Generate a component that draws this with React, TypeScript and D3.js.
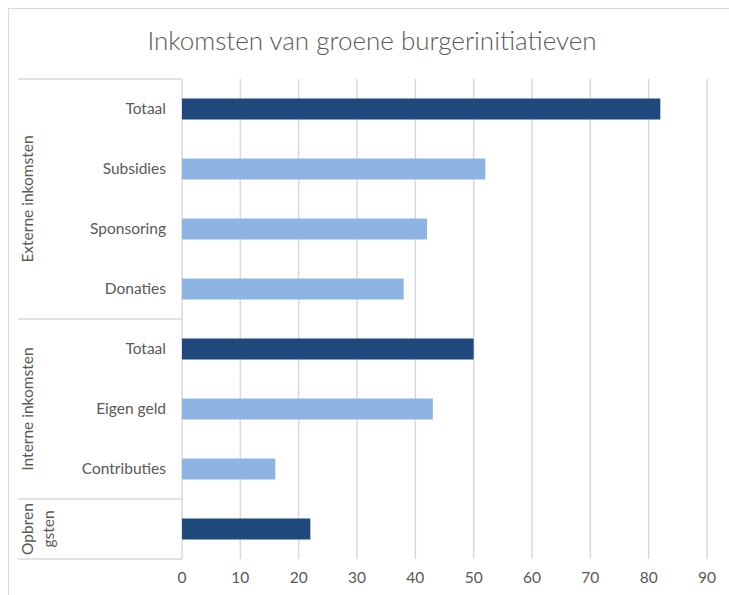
import React from 'react';
import * as d3 from 'd3';

const categories = ['Totaal', 'Subsidies', 'Sponsoring', 'Donaties', 'Totaal', 'Eigen geld', 'Contributies', ''];
const values = [82, 52, 42, 38, 50, 43, 16, 22];
const isTotal = [true, false, false, false, true, false, false, true];
const groups = ['Externe inkomsten', 'Interne inkomsten', 'Opbrengsten'];
const groupSizes = [4, 3, 1];
const ticks = [0, 10, 20, 30, 40, 50, 60, 70, 80, 90];

const W = 729;
const H = 595;
const FONT = 'Lato, "Open Sans", sans-serif';
const TEXT = '#595959';
const GRID = '#d9d9d9';
const LABEL = 15.5;

export default function App() {
  const x = d3.scaleLinear().domain([0, 90]).range([182, 707]);
  const y = d3.scaleBand<number>()
    .domain(categories.map((_, i) => i))
    .range([79, 559])
    .paddingInner(0.65)
    .paddingOuter(0.325);
  const step = y.step();

  // group boundaries (in row index)
  let start = 0;
  const groupSpans = groups.map((g, i) => {
    const s = start;
    start += groupSizes[i];
    return { name: g, from: s, to: start };
  });
  const rowTop = (i: number) => 79 + i * step;

  return (
    <svg width={W} height={H} style={{ position: 'absolute', left: 0, top: 0, background: '#fff' }}>
      {/* chart frame */}
      <rect x={8.5} y={8.5} width={W + 10} height={H + 10} fill="#fff" stroke={GRID} strokeWidth={1} />

      <text x={372} y={50} textAnchor="middle" fill={TEXT} style={{ fontFamily: FONT, fontSize: 26, fontWeight: 300 }}>
        Inkomsten van groene burgerinitiatieven
      </text>

      {/* vertical gridlines */}
      {ticks.map(t => (
        <line key={t} x1={x(t)} x2={x(t)} y1={79} y2={559} stroke={GRID} strokeWidth={1.5} />
      ))}

      {/* group separators */}
      {[0, ...groupSpans.map(g => g.to)].map((r, i) => (
        <line key={i} x1={18} x2={x(0)} y1={rowTop(r)} y2={rowTop(r)} stroke={GRID} strokeWidth={1.5} />
      ))}

      {/* bars */}
      {values.map((v, i) => (
        <rect key={i} x={x(0)} y={y(i)!} width={x(v) - x(0)} height={y.bandwidth()}
          fill={isTotal[i] ? '#1f497d' : '#8eb4e3'} />
      ))}

      {/* category labels */}
      {categories.map((c, i) => (
        <text key={i} x={166} y={y(i)! + y.bandwidth() / 2} dy="0.35em" textAnchor="end" fill={TEXT}
          style={{ fontFamily: FONT, fontSize: LABEL }}>{c}</text>
      ))}

      {/* group labels, rotated */}
      {groupSpans.map((g, i) => {
        const cy = (rowTop(g.from) + rowTop(g.to)) / 2;
        if (g.name === 'Opbrengsten') {
          return (
            <text key={i} transform={`translate(28,${cy}) rotate(-90)`} textAnchor="middle" fill={TEXT}
              style={{ fontFamily: FONT, fontSize: LABEL }}>
              <tspan x={0} dy="0.35em">Opbren</tspan>
              <tspan x={0} dy="1.35em">gsten</tspan>
            </text>
          );
        }
        return (
          <text key={i} transform={`translate(28,${cy}) rotate(-90)`} textAnchor="middle" dy="0.35em" fill={TEXT}
            style={{ fontFamily: FONT, fontSize: LABEL }}>{g.name}</text>
        );
      })}

      {/* x tick labels */}
      {ticks.map(t => (
        <text key={t} x={x(t)} y={578} dy="0.35em" textAnchor="middle" fill={TEXT}
          style={{ fontFamily: FONT, fontSize: LABEL }}>{t}</text>
      ))}
    </svg>
  );
}
